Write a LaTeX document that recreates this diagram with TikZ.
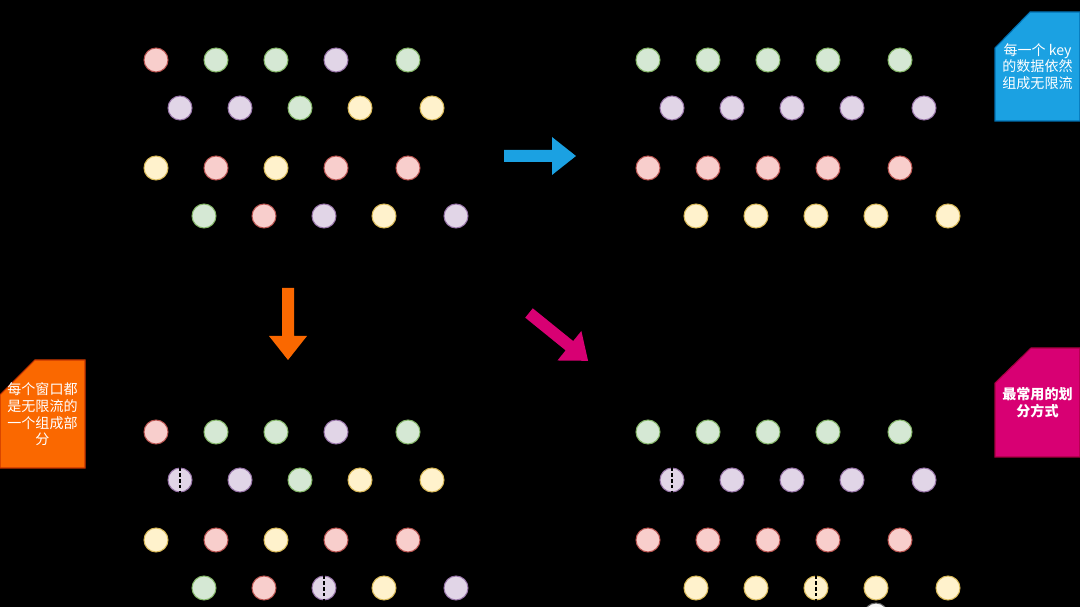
\documentclass[tikz,border=0pt]{standalone}
\usepackage{fontspec}
\newfontfamily\cjk{Noto Sans CJK SC}
\definecolor{r-fill}{HTML}{F8CECC}\definecolor{r-line}{HTML}{B85450}
\definecolor{g-fill}{HTML}{D5E8D4}\definecolor{g-line}{HTML}{82B366}
\definecolor{p-fill}{HTML}{E1D5E7}\definecolor{p-line}{HTML}{9673A6}
\definecolor{y-fill}{HTML}{FFF2CC}\definecolor{y-line}{HTML}{D6B656}
\definecolor{n-fill}{HTML}{F5F5F5}\definecolor{n-line}{HTML}{666666}
\definecolor{keyblue}{HTML}{1BA1E2}\definecolor{keyblueline}{HTML}{006EAF}
\definecolor{winorange}{HTML}{FA6800}\definecolor{winorangeline}{HTML}{C73500}
\definecolor{usepink}{HTML}{D80073}\definecolor{usepinkline}{HTML}{A50040}
\newcommand\dotrow[5]{%
  \foreach \c [count=\i] in {#5}
    \node[ball=\c] (#1-#2-\i) at ({#3+60*(\i-1)+12*int(\i/5)},#4) {};}
\newcommand\blockarrow[4]{%
  \fill[#1, shift={#2}, rotate=#3] (0,-6) -- ({#4-24},-6) -- ({#4-24},-19)
    -- (#4,0) -- ({#4-24},19) -- ({#4-24},6) -- (0,6) -- cycle;}

\begin{document}
\begin{tikzpicture}[x=0.02cm, y=-0.02cm,
    ball/.style={circle, inner sep=0pt, minimum size=0.48cm, line width=0.6pt,
      fill=#1-fill, draw=#1-line},
    cut/.style={black, line width=0.6pt, dash pattern=on 2pt off 1.3pt},
    note/.style={text=white, align=center, inner sep=0pt,
      font=\cjk\fontsize{8}{9.5}\selectfont}]
    \path[use as bounding box, fill=black] (0,0) rectangle (1080,607);
    \clip (0,0) rectangle (1080,607);

    \dotrow{tl}{1}{156}{60}{r,g,g,p,g}
    \dotrow{tl}{2}{180}{108}{p,p,g,y,y}
    \dotrow{tl}{3}{156}{168}{y,r,y,r,r}
    \dotrow{tl}{4}{204}{216}{g,r,p,y,p}

    \dotrow{tr}{1}{648}{60}{g,g,g,g,g}
    \dotrow{tr}{2}{672}{108}{p,p,p,p,p}
    \dotrow{tr}{3}{648}{168}{r,r,r,r,r}
    \dotrow{tr}{4}{696}{216}{y,y,y,y,y}

    \dotrow{bl}{1}{156}{432}{r,g,g,p,g}
    \dotrow{bl}{2}{180}{480}{p,p,g,y,y}
    \dotrow{bl}{3}{156}{540}{y,r,y,r,r}
    \dotrow{bl}{4}{204}{588}{g,r,p,y,p}

    \dotrow{br}{1}{648}{432}{g,g,g,g,g}
    \dotrow{br}{2}{672}{480}{p,p,p,p,p}
    \dotrow{br}{3}{648}{540}{r,r,r,r,r}
    \dotrow{br}{4}{696}{588}{y,y,y,y,y}
    \node[ball=n] (more) at (876,615) {};

    \draw[cut] (bl-2-1.north) -- (bl-2-1.south);
    \draw[cut] (bl-4-3.north) -- (bl-4-3.south);
    \draw[cut] (br-2-1.north) -- (br-2-1.south);
    \draw[cut] (br-4-3.north) -- (br-4-3.south);

    \blockarrow{keyblue}{(504,156)}{0}{72}
    \blockarrow{winorange}{(288,288)}{-90}{72}
    \blockarrow{usepink}{(529,313)}{-39}{76}

    \filldraw[fill=keyblue, draw=keyblueline, line width=0.6pt]
      (995,48) -- (1030,12) -- (1080,12) -- (1080,121) -- (995,121) -- cycle;
    \node[note] (keynote) at (1037.5,66.5) {每一个 key\\的数据依然\\组成无限流};

    \filldraw[fill=winorange, draw=winorangeline, line width=0.6pt]
      (0,395) -- (35,360) -- (85,360) -- (85,468) -- (0,468) -- cycle;
    \node[note] (winnote) at (42.5,414.5) {每个窗口都\\是无限流的\\一个组成部\\分};

    \filldraw[fill=usepink, draw=usepinkline, line width=0.6pt]
      (995,383) -- (1031,348) -- (1080,348) -- (1080,457) -- (995,457) -- cycle;
    \node[note, font=\cjk\bfseries\fontsize{8}{9.5}\selectfont] (usenote)
      at (1037.5,402.5) {最常用的划\\分方式};
  \end{tikzpicture}
\end{document}
